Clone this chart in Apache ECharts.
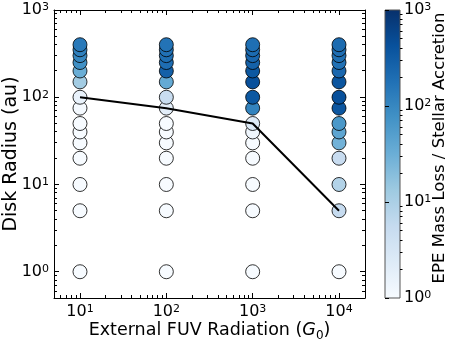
<!DOCTYPE html>
<html><head><meta charset="utf-8">
<script src="https://cdn.jsdelivr.net/npm/echarts@6/dist/echarts.min.js"></script>
<style>html,body{margin:0;padding:0;background:#fff}#c{width:452px;height:339px}</style>
</head><body><div id="c"></div>
<script>
// ---- data ----
const fuvLevels = [10, 100, 1000, 10000];
const radii = [1, 5, 10, 20, 30, 40, 50, 75, 100, 150, 200, 250, 300, 350, 400];
// EPE mass loss / stellar accretion ratio, per radius (same order as radii)
const ratioG10    = [1, 1, 1, 1, 1, 1, 1, 1.1, 1.6, 12, 32, 80, 100, 120, 145];
const ratioG100   = [1, 1, 1, 1, 1, 1, 1, 2, 5, 36, 280, 200, 190, 180, 170];
const ratioG1000  = [1, 1, 1, 1, 1, 1.3, 2.4, 110, 350, 430, 350, 270, 230, 210, 190];
const ratioG10000 = [1, 5.6, 8.5, 5.2, 28, 42, 63, 370, 430, 380, 230, 180, 190, 200, 210];
const lineFuv = [10, 100, 1000, 10000];
const lineRadius = [100, 75, 50, 5];
const xTickExps = [1, 2, 3, 4];
const yTickExps = [0, 1, 2, 3];
const cbTickExps = [0, 1, 2, 3];

const FONT = 'DejaVu Sans';
const blues = ['#f7fbff','#deebf7','#c6dbef','#9ecae1','#6baed6','#4292c6','#2171b5','#08519c','#08306b'];

const ratios = [ratioG10, ratioG100, ratioG1000, ratioG10000];
const pts = [];
fuvLevels.forEach((g, i) => radii.forEach((r, j) => pts.push([g, r, ratios[i][j], Math.log10(ratios[i][j])])));

function expLabel(exps) {
  return function (v) {
    const e = Math.log10(v);
    const k = Math.round(e);
    if (Math.abs(e - k) > 1e-6 || exps.indexOf(k) < 0) return '';
    return '{b|10}{e|' + k + '}';
  };
}
const richTick = {
  b: { fontSize: 16, fontFamily: FONT, color: '#000', verticalAlign: 'bottom' },
  e: { fontSize: 11, fontFamily: FONT, color: '#000', verticalAlign: 'top', padding: [0, 0, 4, 0] }
};
function minorVals(lo, hi) {
  const out = [];
  for (let e = -2; e <= 5; e++) for (let m = 2; m <= 9; m++) {
    const v = m * Math.pow(10, e);
    if (v > lo * 1.0001 && v < hi * 0.9999) out.push(v);
  }
  return out;
}
const X_MIN = 5, X_MAX = 20000, Y_MIN = 0.5, Y_MAX = 1000;
const minorX = minorVals(X_MIN, X_MAX);
const minorYAll = minorVals(Y_MIN, Y_MAX);
const minorCb = minorVals(1, 1000);

function ln(x1, y1, x2, y2) {
  return { type: 'line', shape: { x1, y1, x2, y2 }, style: { stroke: '#000', lineWidth: 1 }, silent: true };
}
const snap = v => Math.round(v - 0.5) + 0.5;

const mainAxis = (pos) => ({
  type: 'log', logBase: 10, gridIndex: 0, position: pos,
  axisLine: { show: true, lineStyle: { color: '#000', width: 1 } },
  axisTick: { show: true, inside: true, length: 5, lineStyle: { color: '#000', width: 1 } },
  splitLine: { show: false }, minorTick: { show: false }
});

const chart = echarts.init(document.getElementById('c'), null, { renderer: 'canvas' });
chart.setOption({
  animation: false,
  backgroundColor: '#fff',
  grid: [
    { left: 54, top: 10, width: 311, height: 288, show: false, containLabel: false, outerBoundsMode: 'none' },
    { left: 385, top: 10, width: 15, height: 288, show: true, borderColor: '#555', borderWidth: 1,
      containLabel: false, outerBoundsMode: 'none',
      backgroundColor: { type: 'linear', x: 0, y: 1, x2: 0, y2: 0,
        colorStops: blues.map((c, i) => ({ offset: i / (blues.length - 1), color: c })) } }
  ],
  xAxis: [
    Object.assign(mainAxis('bottom'), { min: X_MIN, max: X_MAX,
      axisLabel: { show: true, margin: 6, formatter: expLabel(xTickExps), rich: richTick },
      name: '{a|External FUV Radiation (}{i|G}{s|0}{a|)}', nameLocation: 'middle', nameGap: 23,
      nameMoveOverlap: false,
      nameTextStyle: { rich: {
        a: { fontSize: 17.5, fontFamily: FONT, color: '#000', verticalAlign: 'bottom' },
        i: { fontSize: 17.5, fontFamily: FONT, fontStyle: 'italic', color: '#000', verticalAlign: 'bottom' },
        s: { fontSize: 12, fontFamily: FONT, color: '#000', verticalAlign: 'bottom', padding: [0, 0, -3, 0] } } } }),
    Object.assign(mainAxis('top'), { min: X_MIN, max: X_MAX, axisLabel: { show: false } }),
    { type: 'value', gridIndex: 1, min: 0, max: 1, show: false }
  ],
  yAxis: [
    Object.assign(mainAxis('left'), { min: Y_MIN, max: Y_MAX,
      axisLabel: { show: true, margin: 5, formatter: expLabel(yTickExps), rich: richTick },
      name: 'Disk Radius (au)', nameLocation: 'middle', nameGap: 33, nameRotate: 90, nameMoveOverlap: false,
      nameTextStyle: { fontSize: 19, fontFamily: FONT, color: '#000' } }),
    Object.assign(mainAxis('right'), { min: Y_MIN, max: Y_MAX, axisLabel: { show: false } }),
    { type: 'log', logBase: 10, gridIndex: 1, position: 'right', min: 1, max: 1000,
      axisLine: { show: false },
      axisTick: { show: true, inside: false, length: 4, lineStyle: { color: '#000', width: 1 } },
      splitLine: { show: false },
      axisLabel: { show: true, margin: 4, formatter: expLabel(cbTickExps), rich: richTick },
      name: 'EPE Mass Loss / Stellar Accretion', nameLocation: 'middle', nameGap: 31, nameRotate: 90,
      nameMoveOverlap: false,
      nameTextStyle: { fontSize: 16.5, fontFamily: FONT, color: '#000', padding: [0, 0, 0, 12] } }
  ],
  visualMap: { show: false, type: 'continuous', seriesIndex: 0, dimension: 3, min: 0, max: 3,
    inRange: { color: blues } },
  series: [
    { type: 'scatter', xAxisIndex: 0, yAxisIndex: 0, data: pts, symbol: 'circle', symbolSize: 14,
      itemStyle: { borderColor: '#000', borderWidth: 0.8, opacity: 1 }, z: 2 },
    { type: 'line', xAxisIndex: 0, yAxisIndex: 0, data: lineFuv.map((x, i) => [x, lineRadius[i]]),
      symbol: 'none', lineStyle: { color: '#000', width: 2 }, z: 3 },
    { type: 'custom', xAxisIndex: 0, yAxisIndex: 0, data: [[10, 1]], clip: false, z: 4,
      renderItem: function (params, api) {
        const cs = params.coordSys;
        const L = cs.x, R = cs.x + cs.width, T = cs.y, B = cs.y + cs.height;
        const ch = [], len = 3;
        minorX.forEach(v => { const px = snap(api.coord([v, 1])[0]); ch.push(ln(px, B, px, B - len), ln(px, T, px, T + len)); });
        minorYAll.forEach(v => { const py = snap(api.coord([10, v])[1]); ch.push(ln(L, py, L + len, py), ln(R, py, R - len, py)); });
        return { type: 'group', children: ch };
      } },
    { type: 'custom', xAxisIndex: 2, yAxisIndex: 2, data: [[0.5, 10]], clip: false, z: 4,
      renderItem: function (params, api) {
        const cs = params.coordSys;
        const R = cs.x + cs.width;
        const ch = [];
        minorCb.forEach(v => { const py = snap(api.coord([0.5, v])[1]); ch.push(ln(R, py, R + 2.5, py)); });
        return { type: 'group', children: ch };
      } }
  ]
});
</script></body></html>
